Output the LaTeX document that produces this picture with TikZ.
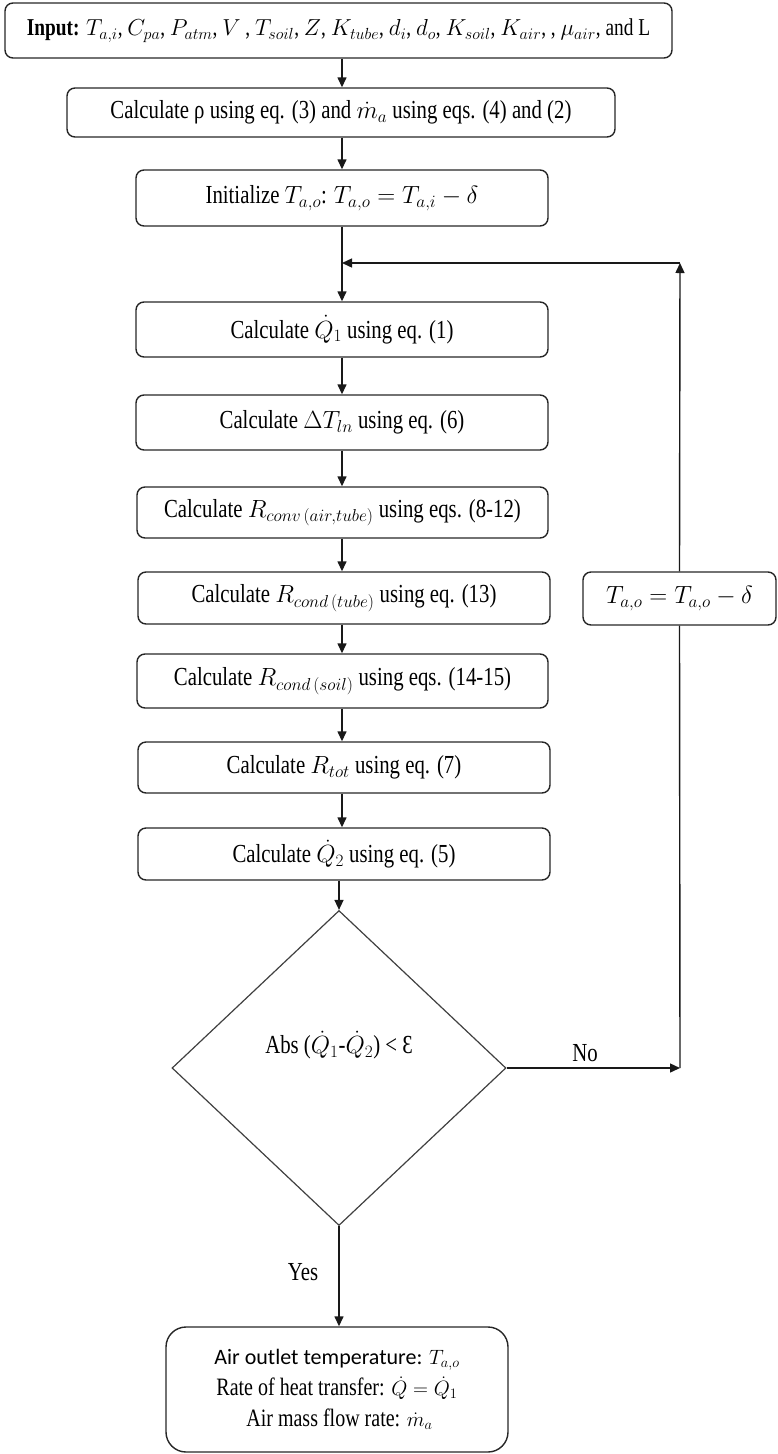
\documentclass[tikz,border=0pt]{standalone}
\usepackage{graphicx}
\usepackage{fontspec}
\setmainfont{Liberation Serif}[FakeStretch=0.8]
\newfontfamily\calibri{Carlito}
\DeclareMathSizes{26}{23}{16}{12}
\DeclareMathSizes{25}{22.5}{15.5}{12}
\usetikzlibrary{shapes.geometric,arrows.meta}
\begin{document}
\begin{tikzpicture}[x=1pt,y=-1pt,
  box/.style={draw=black!85,line width=1.4pt,rounded corners=8pt,inner sep=0pt,align=center,
    font=\fontsize{26}{30}\selectfont},
  dec/.style={draw=black!75,line width=1.2pt,diamond,inner sep=0pt,minimum width=334pt,minimum height=315pt},
  arr/.style={line width=1.4pt,draw=black!90,-{Triangle[length=10pt,width=9pt]}},
  plain/.style={line width=1.4pt,draw=black!90},
  lbl/.style={font=\fontsize{26}{30}\selectfont,inner sep=0pt}]
\useasboundingbox (0,0) rectangle (777,1454);
\node[box,minimum width=667pt,minimum height=55pt] (b1) at (338.5,30.5)
  {\scalebox{0.93}{\textbf{Input:} $T_{a,i}$, $C_{pa}$, $P_{atm}$, $V$ , $T_{soil}$, $Z$, $K_{tube}$, $d_i$, $d_o$, $K_{soil}$, $K_{air}$, , $\mu_{air}$, and L}};
\node[box,minimum width=548pt,minimum height=49pt] (b2) at (341,112.5)
  {Calculate ρ using eq. (3) and $\dot m_a$ using eqs. (4) and (2)};
\node[box,minimum width=412pt,minimum height=56pt] (b3) at (342,198)
  {Initialize $T_{a,o}$: $T_{a,o} = T_{a,i} - \delta$};
\node[box,minimum width=412pt,minimum height=55pt] (b4) at (342,329.5)
  {Calculate $\dot Q_1$ using eq. (1)};
\node[box,minimum width=412pt,minimum height=55pt] (b5) at (342,422.5)
  {Calculate $\Delta T_{ln}$ using eq. (6)};
\node[box,minimum width=411pt,minimum height=51pt] (b6) at (342.5,512.5)
  {Calculate $R_{conv\,(air,tube)}$ using eqs. (8-12)};
\node[box,minimum width=412pt,minimum height=52pt] (b7) at (344,598)
  {Calculate $R_{cond\,(tube)}$ using eq. (13)};
\node[box,minimum width=411pt,minimum height=54pt] (b8) at (342.5,681)
  {Calculate $R_{cond\,(soil)}$ using eqs. (14-15)};
\node[box,minimum width=412pt,minimum height=51pt] (b9) at (344,767.5)
  {Calculate $R_{tot}$ using eq. (7)};
\node[box,minimum width=412pt,minimum height=52pt] (b10) at (344,854)
  {Calculate $\dot Q_2$ using eq. (5)};
\node[dec] (d) at (339,1068) {};
\node[lbl] (dt) at (339,1045) {Abs ($\dot Q_1$-$\dot Q_2$) < Ɛ};
\node[box,minimum width=193pt,minimum height=53pt] (bl) at (679.5,598.5)
  {$T_{a,o} = T_{a,o} - \delta$};
\node[box,rounded corners=20pt,minimum width=342pt,minimum height=125pt,
  font=\fontsize{25}{31}\selectfont] (e) at (337,1389.5)
  {{\calibri\fontsize{22}{31}\selectfont Air outlet temperature:} $T_{a,o}$\\ Rate of heat transfer: $\dot Q = \dot Q_1$\\ \ Air mass flow rate: $\dot m_a$};
\coordinate (c1) at (680,1068);
\coordinate (c2) at (680,263);
\coordinate (c3) at (342,263);
\draw[arr] (b3.north |- b1.south) -- (b3.north |- b2.north);
\draw[arr] (b3.north |- b2.south) -- (b3.north);
\draw[arr] (b3.south) -- (b4.north);
\draw[arr] (b4.south) -- (b5.north);
\draw[arr] (b5.south) -- (b6.north -| b5.south);
\draw[arr] (b6.south -| b5.south) -- (b7.north -| b5.south);
\draw[arr] (b7.south -| b5.south) -- (b8.north -| b5.south);
\draw[arr] (b8.south -| b5.south) -- (b9.north -| b5.south);
\draw[arr] (b9.south -| b5.south) -- (b10.north -| b5.south);
\draw[arr] (b10.south -| d.north) -- (d.north);
\draw[arr] (d.east) -- (c1);
\draw[plain] (c1) -- (bl.south);
\draw[arr] (bl.north) -- (c2);
\draw[arr] (c2) -- (c3);
\draw[arr] (d.south) -- (e.north -| d.south);
\node[lbl] (no) at (585,1053) {No};
\node[lbl] (yes) at (303,1272) {Yes};
\end{tikzpicture}
\end{document}
